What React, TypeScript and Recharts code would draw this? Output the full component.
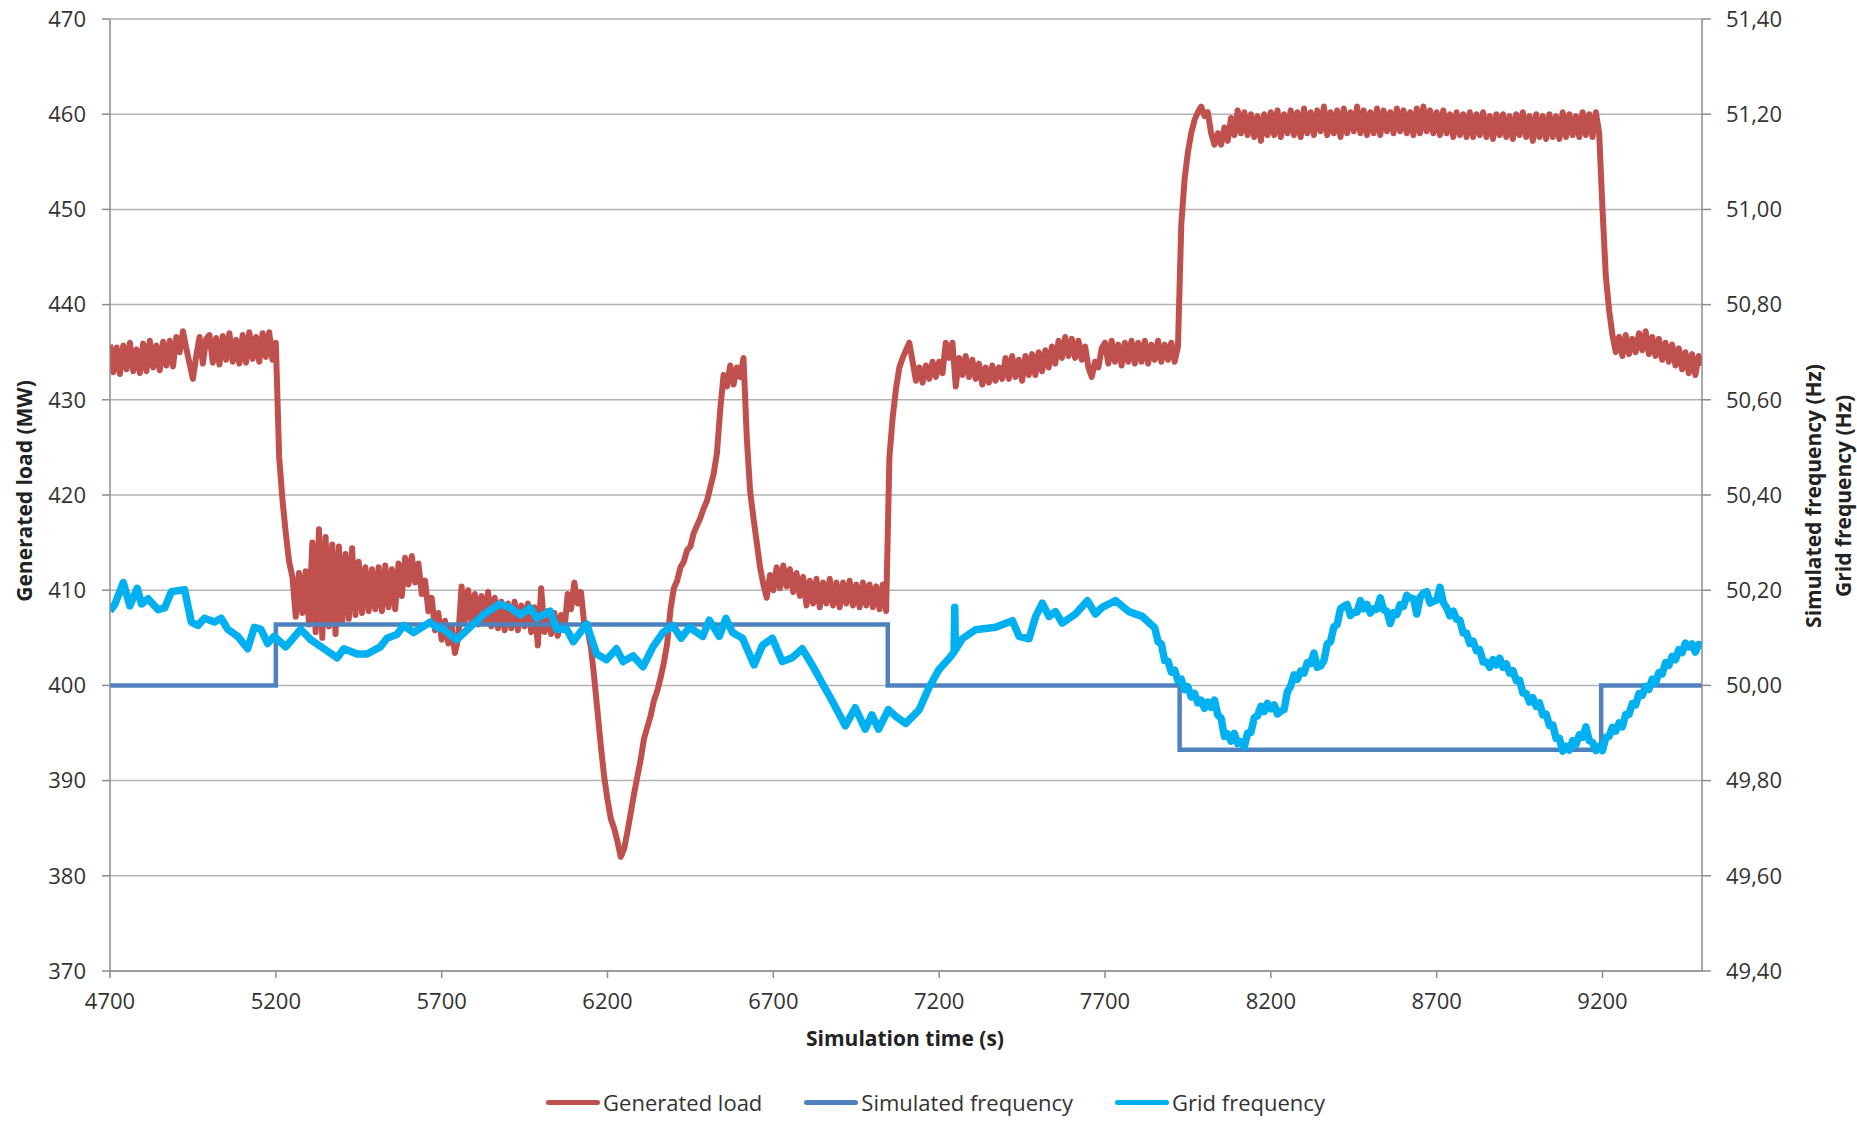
import { CartesianGrid, Line, LineChart, XAxis, YAxis } from "recharts";

const FONT = "'Open Sans', sans-serif";

const xTicks = [4700, 5200, 5700, 6200, 6700, 7200, 7700, 8200, 8700, 9200];
const loadTicks = [370, 380, 390, 400, 410, 420, 430, 440, 450, 460, 470];
const freqTicks = [49.4, 49.6, 49.8, 50.0, 50.2, 50.4, 50.6, 50.8, 51.0, 51.2, 51.4];

// generated load (MW), one sample every 10 s
const loadTime = [
    4700, 4710, 4720, 4730, 4740, 4750, 4760, 4770, 4780, 4790,
    4800, 4810, 4820, 4830, 4840, 4850, 4860, 4870, 4880, 4890,
    4900, 4910, 4920, 4930, 4940, 4950, 4960, 4970, 4980, 4990,
    5000, 5010, 5020, 5030, 5040, 5050, 5060, 5070, 5080, 5090,
    5100, 5110, 5120, 5130, 5140, 5150, 5160, 5170, 5180, 5190,
    5200, 5210, 5220, 5230, 5240, 5250, 5260, 5270, 5280, 5290,
    5300, 5310, 5320, 5330, 5340, 5350, 5360, 5370, 5380, 5390,
    5400, 5410, 5420, 5430, 5440, 5450, 5460, 5470, 5480, 5490,
    5500, 5510, 5520, 5530, 5540, 5550, 5560, 5570, 5580, 5590,
    5600, 5610, 5620, 5630, 5640, 5650, 5660, 5670, 5680, 5690,
    5700, 5710, 5720, 5730, 5740, 5750, 5760, 5770, 5780, 5790,
    5800, 5810, 5820, 5830, 5840, 5850, 5860, 5870, 5880, 5890,
    5900, 5910, 5920, 5930, 5940, 5950, 5960, 5970, 5980, 5990,
    6000, 6010, 6020, 6030, 6040, 6050, 6060, 6070, 6080, 6090,
    6100, 6110, 6120, 6130, 6140, 6150, 6160, 6170, 6180, 6190,
    6200, 6210, 6220, 6230, 6240, 6250, 6260, 6270, 6280, 6290,
    6300, 6310, 6320, 6330, 6340, 6350, 6360, 6370, 6380, 6390,
    6400, 6410, 6420, 6430, 6440, 6450, 6460, 6470, 6480, 6490,
    6500, 6510, 6520, 6530, 6540, 6550, 6560, 6570, 6580, 6590,
    6600, 6610, 6620, 6630, 6640, 6650, 6660, 6670, 6680, 6690,
    6700, 6710, 6720, 6730, 6740, 6750, 6760, 6770, 6780, 6790,
    6800, 6810, 6820, 6830, 6840, 6850, 6860, 6870, 6880, 6890,
    6900, 6910, 6920, 6930, 6940, 6950, 6960, 6970, 6980, 6990,
    7000, 7010, 7020, 7030, 7040, 7050, 7060, 7070, 7080, 7090,
    7100, 7110, 7120, 7130, 7140, 7150, 7160, 7170, 7180, 7190,
    7200, 7210, 7220, 7230, 7240, 7250, 7260, 7270, 7280, 7290,
    7300, 7310, 7320, 7330, 7340, 7350, 7360, 7370, 7380, 7390,
    7400, 7410, 7420, 7430, 7440, 7450, 7460, 7470, 7480, 7490,
    7500, 7510, 7520, 7530, 7540, 7550, 7560, 7570, 7580, 7590,
    7600, 7610, 7620, 7630, 7640, 7650, 7660, 7670, 7680, 7690,
    7700, 7710, 7720, 7730, 7740, 7750, 7760, 7770, 7780, 7790,
    7800, 7810, 7820, 7830, 7840, 7850, 7860, 7870, 7880, 7890,
    7900, 7910, 7920, 7930, 7940, 7950, 7960, 7970, 7980, 7990,
    8000, 8010, 8020, 8030, 8040, 8050, 8060, 8070, 8080, 8090,
    8100, 8110, 8120, 8130, 8140, 8150, 8160, 8170, 8180, 8190,
    8200, 8210, 8220, 8230, 8240, 8250, 8260, 8270, 8280, 8290,
    8300, 8310, 8320, 8330, 8340, 8350, 8360, 8370, 8380, 8390,
    8400, 8410, 8420, 8430, 8440, 8450, 8460, 8470, 8480, 8490,
    8500, 8510, 8520, 8530, 8540, 8550, 8560, 8570, 8580, 8590,
    8600, 8610, 8620, 8630, 8640, 8650, 8660, 8670, 8680, 8690,
    8700, 8710, 8720, 8730, 8740, 8750, 8760, 8770, 8780, 8790,
    8800, 8810, 8820, 8830, 8840, 8850, 8860, 8870, 8880, 8890,
    8900, 8910, 8920, 8930, 8940, 8950, 8960, 8970, 8980, 8990,
    9000, 9010, 9020, 9030, 9040, 9050, 9060, 9070, 9080, 9090,
    9100, 9110, 9120, 9130, 9140, 9150, 9160, 9170, 9180, 9190,
    9200, 9210, 9220, 9230, 9240, 9250, 9260, 9270, 9280, 9290,
    9300, 9310, 9320, 9330, 9340, 9350, 9360, 9370, 9380, 9390,
    9400, 9410, 9420, 9430, 9440, 9450, 9460, 9470, 9480, 9490,
    9500,
];
const loadMW = [
    435.8, 432.9, 435.5, 432.7, 435.7, 433.2, 436.0, 433.0, 435.3, 432.8,
    435.9, 433.0, 436.2, 433.4, 435.7, 433.1, 436.1, 433.6, 436.2, 433.5,
    436.6, 435.0, 437.2, 435.4, 433.8, 432.2, 434.6, 436.6, 433.8, 436.4,
    436.8, 433.9, 436.5, 433.7, 436.7, 434.2, 437.0, 434.0, 436.3, 433.8,
    436.8, 433.9, 437.1, 434.3, 436.6, 434.0, 437.0, 434.5, 437.1, 434.2,
    436.0, 424.0, 419.5, 416.0, 413.0, 411.4, 407.2, 411.8, 407.6, 412.0,
    406.4, 415.0, 405.6, 416.4, 405.0, 415.6, 406.2, 414.8, 405.4, 414.6,
    406.6, 413.8, 407.0, 414.4, 407.4, 413.0, 407.6, 412.4, 407.8, 412.2,
    408.0, 412.4, 407.8, 412.6, 408.2, 412.2, 408.0, 412.8, 409.4, 413.4,
    410.6, 413.6, 410.8, 412.8, 409.6, 411.0, 407.8, 409.2, 405.8, 407.6,
    404.8, 406.8, 404.4, 406.2, 403.4, 405.0, 410.4, 406.8, 410.0, 406.6,
    409.6, 406.4, 409.4, 406.6, 409.8, 406.2, 409.2, 406.0, 408.8, 405.8,
    408.6, 406.0, 408.8, 405.8, 408.4, 406.2, 408.6, 405.6, 408.2, 404.2,
    410.2, 405.6, 407.8, 405.4, 407.6, 405.2, 407.4, 405.8, 409.6, 408.0,
    410.8, 408.6, 409.8, 406.4, 405.8, 404.0, 400.8, 397.2, 393.6, 390.4,
    388.0, 386.0, 385.0, 383.6, 382.0, 382.8, 384.6, 386.6, 388.6, 390.4,
    392.2, 394.4, 395.6, 396.8, 398.4, 399.4, 400.8, 402.4, 404.4, 408.0,
    410.2, 411.0, 412.4, 413.0, 414.2, 414.6, 416.0, 416.8, 417.6, 418.6,
    419.4, 420.8, 422.2, 424.4, 429.0, 432.6, 431.4, 433.6, 431.6, 433.4,
    432.4, 434.4, 426.0, 420.4, 417.6, 415.0, 412.4, 410.6, 409.2, 411.6,
    410.0, 412.4, 410.2, 412.6, 410.4, 412.2, 409.8, 411.8, 409.4, 411.4,
    408.4, 411.0, 408.6, 411.2, 408.2, 410.8, 408.6, 411.2, 408.4, 410.8,
    408.2, 410.8, 408.6, 411.0, 408.4, 410.6, 408.2, 410.8, 408.4, 410.6,
    408.2, 410.4, 408.0, 410.6, 407.8, 424.0, 428.2, 431.2, 433.4, 434.4,
    435.2, 436.0, 434.0, 432.0, 433.4, 431.8, 433.6, 432.2, 434.0, 432.4,
    434.0, 432.8, 436.0, 434.4, 436.0, 431.4, 434.4, 432.6, 434.6, 432.4,
    434.2, 432.2, 433.8, 431.6, 433.4, 431.8, 433.6, 432.0, 433.4, 432.2,
    434.4, 432.2, 434.6, 432.4, 434.2, 432.0, 434.6, 432.6, 434.8, 432.6,
    435.0, 433.0, 435.2, 433.4, 435.6, 433.8, 436.2, 434.4, 436.6, 434.6,
    436.4, 434.4, 436.2, 434.2, 435.6, 433.4, 432.4, 434.0, 433.4, 435.4,
    436.0, 433.8, 436.2, 434.0, 435.8, 433.6, 436.0, 434.0, 436.2, 433.8,
    436.0, 434.0, 436.2, 433.8, 435.8, 434.2, 436.2, 434.0, 435.8, 434.2,
    436.0, 434.0, 435.6, 448.4, 453.2, 456.0, 458.0, 459.4, 460.2, 460.8,
    459.8, 460.2, 458.0, 456.8, 458.0, 456.8, 458.6, 457.2, 459.6, 457.8,
    460.4, 458.0, 460.2, 457.8, 460.0, 457.6, 459.8, 457.2, 460.0, 457.8,
    460.2, 457.8, 460.4, 457.6, 460.0, 458.0, 460.4, 457.8, 460.2, 457.6,
    460.6, 458.0, 460.2, 457.8, 460.4, 458.2, 460.8, 457.8, 460.2, 458.0,
    460.4, 457.6, 460.6, 458.0, 460.2, 458.2, 460.8, 458.0, 460.4, 457.8,
    460.2, 458.0, 460.6, 457.8, 460.4, 458.2, 460.2, 458.0, 460.6, 458.2,
    460.4, 458.0, 460.2, 457.8, 460.6, 458.0, 460.8, 458.2, 460.4, 458.0,
    460.2, 457.8, 460.4, 458.0, 460.0, 457.6, 460.2, 457.8, 460.0, 457.6,
    460.2, 457.6, 460.0, 457.8, 460.2, 457.6, 459.8, 457.4, 460.0, 457.8,
    460.0, 457.6, 459.8, 457.4, 460.0, 457.8, 460.2, 457.6, 459.8, 457.2,
    460.0, 457.6, 459.8, 457.4, 460.0, 457.6, 459.8, 457.4, 460.2, 457.6,
    460.0, 457.8, 459.8, 457.6, 460.2, 457.8, 460.0, 457.6, 460.2, 458.0,
    450.0, 443.0, 439.4, 436.8, 435.0, 436.6, 434.6, 436.8, 434.8, 436.4,
    435.0, 437.0, 435.2, 437.2, 434.8, 436.6, 434.6, 436.4, 434.2, 436.0,
    434.0, 435.8, 433.6, 435.4, 433.2, 435.0, 432.8, 434.8, 432.6, 434.6,
    433.6,
];

// simulated frequency (Hz), step values
const simTime = [4700, 5200, 7045, 7925, 9196, 9500];
const simHz = [50.0, 50.128, 50.0, 49.865, 50.0, 50.0];

// grid frequency (Hz)
const gridTime = [
    4700, 4715, 4740, 4760, 4782, 4795, 4815, 4845, 4865, 4885,
    4925, 4945, 4965, 4985, 5015, 5035, 5055, 5085, 5115, 5135,
    5155, 5175, 5195, 5230, 5275, 5305, 5345, 5385, 5405, 5445,
    5475, 5515, 5535, 5565, 5585, 5615, 5665, 5685, 5705, 5745,
    5785, 5825, 5875, 5907, 5937, 5967, 5987, 6027, 6047, 6077,
    6097, 6137, 6167, 6197, 6227, 6247, 6277, 6307, 6337, 6367,
    6397, 6422, 6447, 6487, 6507, 6537, 6557, 6577, 6607, 6642,
    6667, 6697, 6727, 6757, 6787, 6817, 6847, 6877, 6917, 6947,
    6977, 6997, 7017, 7047, 7069, 7099, 7139, 7169, 7199, 7229,
    7245, 7247, 7249, 7270, 7310, 7370, 7421, 7441, 7471, 7491,
    7511, 7531, 7551, 7571, 7611, 7647, 7671, 7691, 7732, 7772,
    7812,
    7850, 7860, 7870, 7880, 7890, 7900, 7910, 7920, 7930, 7940,
    7950, 7960, 7970, 7980, 7990, 8000, 8010, 8020, 8030, 8040,
    8050, 8060, 8070, 8080, 8090, 8100, 8110, 8120, 8130, 8140,
    8150, 8160, 8170, 8180, 8190, 8200, 8210, 8220, 8230, 8240,
    8250, 8260, 8270, 8280, 8290, 8300, 8310, 8320, 8330, 8340,
    8350, 8360, 8370, 8380, 8390, 8400, 8410, 8420, 8430, 8440,
    8450, 8460, 8470, 8480, 8490, 8500, 8510, 8520, 8530, 8540,
    8550, 8560, 8570, 8580, 8590, 8600, 8610, 8620, 8630, 8640,
    8650, 8660, 8670, 8680, 8690, 8700, 8710, 8720, 8730, 8740,
    8750, 8760, 8770, 8780, 8790, 8800, 8810, 8820, 8830, 8840,
    8850, 8860, 8870, 8880, 8890, 8900, 8910, 8920, 8930, 8940,
    8950, 8960, 8970, 8980, 8990, 9000, 9010, 9020, 9030, 9040,
    9050, 9060, 9070, 9080, 9090, 9100, 9110, 9120, 9130, 9140,
    9150, 9160, 9170, 9180, 9190, 9200, 9210, 9220, 9230, 9240,
    9250, 9260, 9270, 9280, 9290, 9300, 9310, 9320, 9330, 9340,
    9350, 9360, 9370, 9380, 9390, 9400, 9410, 9420, 9430, 9440,
    9450, 9460, 9470, 9480, 9490, 9500,
];
const gridHz = [
    50.156, 50.171, 50.216, 50.167, 50.204, 50.171, 50.182, 50.159, 50.163, 50.197,
    50.201, 50.133, 50.126, 50.141, 50.133, 50.141, 50.118, 50.103, 50.077, 50.122,
    50.118, 50.088, 50.103, 50.081, 50.118, 50.096, 50.077, 50.058, 50.077, 50.066,
    50.066, 50.081, 50.099, 50.107, 50.126, 50.111, 50.133, 50.122, 50.118, 50.096,
    50.122, 50.148, 50.171, 50.163, 50.148, 50.163, 50.141, 50.156, 50.118, 50.118,
    50.092, 50.129, 50.066, 50.054, 50.077, 50.050, 50.062, 50.039, 50.081, 50.111,
    50.126, 50.099, 50.122, 50.103, 50.137, 50.103, 50.141, 50.111, 50.099, 50.043,
    50.084, 50.099, 50.050, 50.058, 50.077, 50.043, 50.005, 49.968, 49.915, 49.953,
    49.908, 49.938, 49.908, 49.949, 49.935, 49.920, 49.948, 49.995, 50.033, 50.056,
    50.070, 50.164, 50.075, 50.098, 50.117, 50.122, 50.136, 50.103, 50.098, 50.145,
    50.173, 50.145, 50.155, 50.131, 50.150, 50.178, 50.150, 50.164, 50.178, 50.155,
    50.145,
    50.121, 50.092, 50.087, 50.052, 50.051, 50.028, 50.032, 50.010, 50.013, 49.991,
    49.997, 49.976, 49.983, 49.963, 49.969, 49.952, 49.965, 49.954, 49.969, 49.938,
    49.931, 49.893, 49.898, 49.883, 49.899, 49.878, 49.882, 49.871, 49.900, 49.901,
    49.932, 49.936, 49.956, 49.945, 49.962, 49.951, 49.959, 49.940, 49.946, 49.949,
    49.987, 49.999, 50.022, 50.013, 50.030, 50.026, 50.048, 50.046, 50.068, 50.038,
    50.041, 50.052, 50.087, 50.092, 50.123, 50.128, 50.161, 50.166, 50.170, 50.147,
    50.153, 50.154, 50.178, 50.161, 50.170, 50.152, 50.161, 50.160, 50.184, 50.159,
    50.156, 50.130, 50.153, 50.149, 50.170, 50.166, 50.189, 50.184, 50.182, 50.150,
    50.185, 50.194, 50.197, 50.173, 50.177, 50.179, 50.206, 50.174, 50.163, 50.146,
    50.156, 50.139, 50.137, 50.110, 50.110, 50.088, 50.093, 50.073, 50.075, 50.049,
    50.049, 50.038, 50.054, 50.043, 50.057, 50.038, 50.045, 50.026, 50.031, 50.010,
    50.011, 49.984, 49.983, 49.965, 49.974, 49.956, 49.963, 49.938, 49.940, 49.916,
    49.917, 49.889, 49.889, 49.862, 49.872, 49.864, 49.884, 49.876, 49.896, 49.891,
    49.913, 49.884, 49.880, 49.863, 49.872, 49.863, 49.891, 49.893, 49.912, 49.904,
    49.921, 49.913, 49.939, 49.939, 49.962, 49.959, 49.983, 49.979, 49.998, 49.992,
    50.013, 50.006, 50.027, 50.024, 50.048, 50.042, 50.061, 50.054, 50.075, 50.069,
    50.089, 50.081, 50.087, 50.070, 50.086, 50.084,
];

const loadData = loadTime.map((t, i) => ({ t, load: loadMW[i] }));
const simData = simTime.map((t, i) => ({ t, sim: simHz[i] }));
const gridData = gridTime.map((t, i) => ({ t, grid: gridHz[i] }));

const legendItems = [
    { name: "Generated load", color: "#C0504D" },
    { name: "Simulated frequency", color: "#4F81BD" },
    { name: "Grid frequency", color: "#00B0F0" },
];

const tickStyle = { fill: "#333", fontSize: 22, fontFamily: FONT };
const titleStyle: React.CSSProperties = {
    position: "absolute", fontFamily: FONT, fontWeight: 700, fontSize: 21,
    color: "#222", whiteSpace: "nowrap", lineHeight: "28px",
};

const App = () => {
    return <div style={{ position: "absolute", left: 0, top: 0, width: 1857, height: 1122, background: "#fff" }}>
        <LineChart width={1857} height={1122} margin={{ top: 19, right: 0, bottom: 91, left: 0 }}>
            <CartesianGrid yAxisId="mw" vertical={false} stroke="#B3B3B3" strokeWidth={1.5} />
            <XAxis dataKey="t" type="number" domain={[4700, 9500]} ticks={xTicks} allowDataOverflow
                height={60} tickSize={7} tickMargin={15} stroke="#8C8C8C" strokeWidth={1.5} tick={tickStyle} />
            <YAxis yAxisId="mw" orientation="left" domain={[370, 470]} ticks={loadTicks} allowDataOverflow
                width={110} tickSize={8} tickMargin={16} stroke="#8C8C8C" strokeWidth={1.5} tick={tickStyle} />
            <YAxis yAxisId="hz" orientation="right" domain={[49.4, 51.4]} ticks={freqTicks} allowDataOverflow
                width={155} tickSize={9} tickMargin={15} stroke="#8C8C8C" strokeWidth={1.5} tick={tickStyle}
                tickFormatter={(v: number) => v.toFixed(2).replace(".", ",")} />
            <Line yAxisId="mw" data={loadData} dataKey="load" type="linear" stroke="#C0504D" strokeWidth={6}
                strokeLinejoin="round" dot={false} isAnimationActive={false} />
            <Line yAxisId="hz" data={simData} dataKey="sim" type="stepAfter" stroke="#4F81BD" strokeWidth={4.5}
                dot={false} isAnimationActive={false} />
            <Line yAxisId="hz" data={gridData} dataKey="grid" type="linear" stroke="#00B0F0" strokeWidth={7.5}
                strokeLinejoin="round" dot={false} isAnimationActive={false} />
        </LineChart>

        <div style={{ ...titleStyle, left: 0, width: 1810, top: 1024, textAlign: "center" }}>Simulation time (s)</div>
        <div style={{ ...titleStyle, left: 24, top: 491, transform: "translate(-50%, -50%) rotate(-90deg)" }}>Generated load (MW)</div>
        <div style={{ ...titleStyle, left: 1813, top: 496, transform: "translate(-50%, -50%) rotate(-90deg)" }}>Simulated frequency (Hz)</div>
        <div style={{ ...titleStyle, left: 1843, top: 496, transform: "translate(-50%, -50%) rotate(-90deg)" }}>Grid frequency (Hz)</div>

        <div style={{ position: "absolute", left: 0, width: 1871, top: 1087, display: "flex", justifyContent: "center",
            alignItems: "center", fontFamily: FONT, fontSize: 22, color: "#333", lineHeight: "30px" }}>
            {legendItems.map((item) => (
                <div key={item.name} style={{ display: "flex", alignItems: "center", margin: "0 21px" }}>
                    <span style={{ display: "inline-block", width: 54, height: 5, borderRadius: 3, background: item.color }} />
                    <span style={{ marginLeft: 3 }}>{item.name}</span>
                </div>
            ))}
        </div>
    </div>;
};

export default App;
